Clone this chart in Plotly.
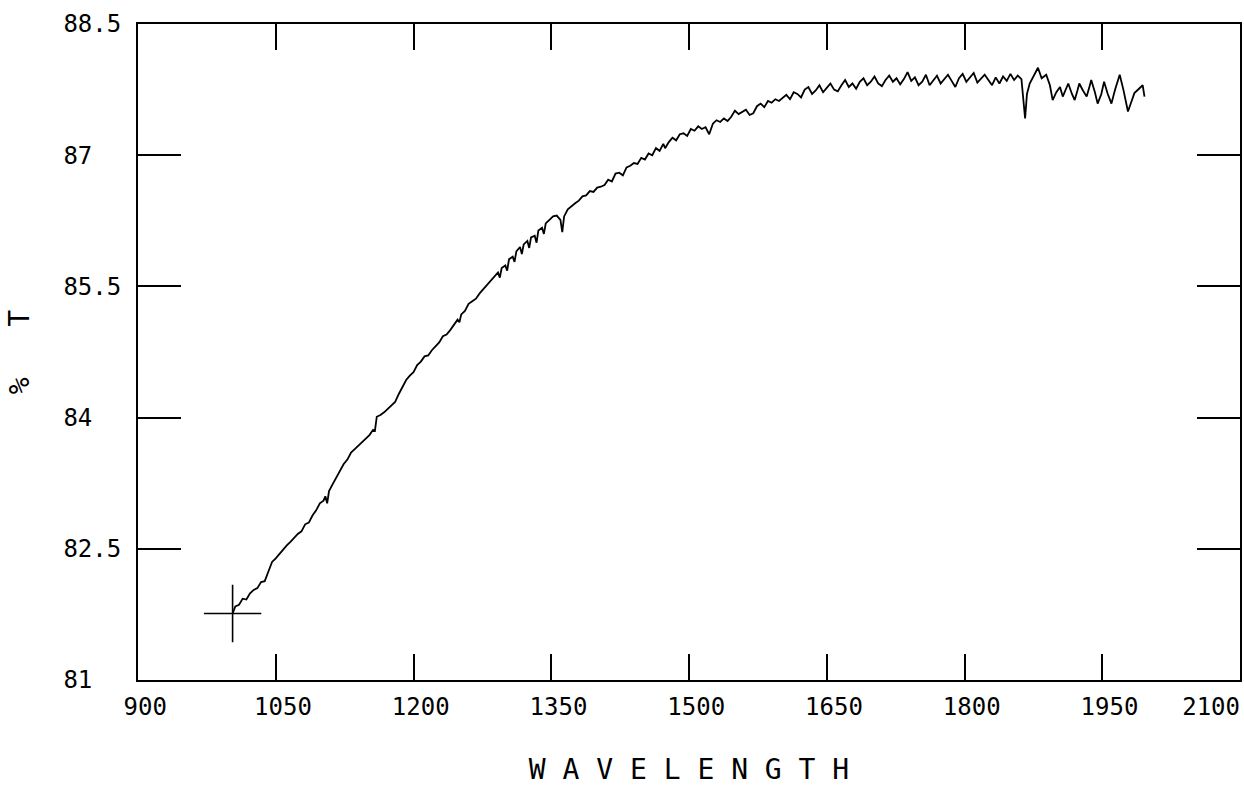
import plotly.graph_objects as go

wavelength = [
    1003, 1006, 1010, 1014, 1018, 1022, 1026, 1030, 1034, 1038, 1042, 1046, 1050, 1054, 1058,
    1062, 1066, 1070, 1074, 1078, 1082, 1086, 1090, 1094, 1098, 1102, 1104, 1106, 1108, 1112,
    1116, 1120, 1124, 1128, 1132, 1136, 1140, 1144, 1148, 1152, 1156, 1158, 1160, 1164, 1168,
    1172, 1176, 1180, 1184, 1188, 1192, 1196, 1200, 1204, 1208, 1212, 1216, 1220, 1224, 1228,
    1232, 1236, 1240, 1244, 1248, 1250, 1252, 1256, 1260, 1264, 1268, 1272, 1276, 1280, 1284,
    1288, 1292, 1294, 1296, 1300, 1302, 1304, 1308, 1310, 1312, 1316, 1318, 1320, 1324, 1326,
    1328, 1332, 1334, 1336, 1340, 1342, 1344, 1348, 1352, 1356, 1360, 1362, 1364, 1368, 1372,
    1376, 1380, 1384, 1388, 1392, 1396, 1400, 1404, 1408, 1412, 1416, 1420, 1424, 1428, 1432,
    1436, 1440, 1444, 1448, 1452, 1456, 1460, 1464, 1468, 1472, 1474, 1478, 1482, 1486, 1490,
    1494, 1498, 1502, 1506, 1510, 1514, 1518, 1522, 1526, 1530, 1534, 1538, 1542, 1546, 1550,
    1554, 1558, 1562, 1566, 1570, 1574, 1578, 1582, 1586, 1590, 1594, 1598, 1602, 1606, 1610,
    1614, 1618, 1622, 1626, 1630, 1634, 1638, 1642, 1646, 1650, 1654, 1658, 1662, 1666, 1670,
    1674, 1678, 1682, 1686, 1690, 1694, 1698, 1702, 1706, 1710, 1714, 1718, 1722, 1726, 1730,
    1734, 1738, 1742, 1746, 1750, 1754, 1758, 1762, 1766, 1770, 1774, 1778, 1782, 1786, 1790,
    1794, 1798, 1802, 1806, 1810, 1814, 1818, 1822, 1826, 1830, 1834, 1838, 1842, 1846, 1850,
    1854, 1858, 1862, 1866, 1868, 1871, 1875, 1880, 1884, 1889, 1893, 1896, 1900, 1904, 1907,
    1910, 1913, 1917, 1920, 1923, 1925, 1929, 1933, 1936, 1938, 1942, 1945, 1949, 1952, 1956,
    1960, 1964, 1969, 1973, 1978, 1982, 1985, 1990, 1994, 1996,
]

transmittance = [
    81.76, 81.84, 81.86, 81.93, 81.92, 81.99, 82.03, 82.05, 82.12, 82.13, 82.24, 82.35, 82.39, 82.44, 82.50,
    82.54, 82.58, 82.63, 82.67, 82.70, 82.78, 82.80, 82.88, 82.94, 83.02, 83.05, 83.10, 83.02, 83.16, 83.24,
    83.32, 83.40, 83.47, 83.52, 83.60, 83.64, 83.68, 83.72, 83.76, 83.80, 83.86, 83.85, 84.01, 84.03, 84.06,
    84.10, 84.14, 84.18, 84.27, 84.36, 84.43, 84.48, 84.52, 84.60, 84.64, 84.70, 84.71, 84.77, 84.82, 84.86,
    84.93, 84.95, 85.00, 85.06, 85.12, 85.09, 85.18, 85.22, 85.30, 85.33, 85.36, 85.42, 85.47, 85.52, 85.57,
    85.62, 85.66, 85.60, 85.71, 85.74, 85.68, 85.81, 85.84, 85.78, 85.90, 85.95, 85.87, 85.98, 86.02, 85.94,
    86.06, 86.08, 86.00, 86.14, 86.17, 86.10, 86.22, 86.26, 86.30, 86.31, 86.26, 86.12, 86.30, 86.38, 86.42,
    86.45, 86.48, 86.53, 86.54, 86.59, 86.58, 86.63, 86.64, 86.66, 86.72, 86.70, 86.79, 86.80, 86.77, 86.86,
    86.88, 86.91, 86.90, 86.97, 86.95, 87.02, 87.00, 87.08, 87.05, 87.13, 87.08, 87.15, 87.20, 87.17, 87.24,
    87.25, 87.22, 87.30, 87.28, 87.33, 87.30, 87.32, 87.24, 87.36, 87.40, 87.38, 87.42, 87.39, 87.44, 87.51,
    87.47, 87.50, 87.52, 87.46, 87.48, 87.56, 87.59, 87.55, 87.62, 87.60, 87.64, 87.62, 87.66, 87.69, 87.64,
    87.72, 87.70, 87.66, 87.75, 87.78, 87.70, 87.74, 87.80, 87.72, 87.77, 87.82, 87.75, 87.73, 87.80, 87.86,
    87.78, 87.82, 87.76, 87.84, 87.88, 87.80, 87.84, 87.90, 87.82, 87.79, 87.86, 87.91, 87.84, 87.88, 87.81,
    87.87, 87.95, 87.85, 87.89, 87.80, 87.84, 87.92, 87.80, 87.86, 87.91, 87.82, 87.87, 87.92, 87.85, 87.78,
    87.88, 87.93, 87.84, 87.89, 87.94, 87.83, 87.88, 87.92, 87.86, 87.80, 87.89, 87.82, 87.90, 87.85, 87.93,
    87.86, 87.91, 87.87, 87.42, 87.70, 87.82, 87.90, 88.00, 87.88, 87.92, 87.80, 87.63, 87.72, 87.78, 87.67,
    87.75, 87.82, 87.70, 87.63, 87.74, 87.82, 87.74, 87.67, 87.78, 87.86, 87.72, 87.59, 87.70, 87.84, 87.70,
    87.59, 87.75, 87.92, 87.75, 87.50, 87.62, 87.71, 87.76, 87.80, 87.67,
]

x_ticks = [900, 1050, 1200, 1350, 1500, 1650, 1800, 1950, 2100]
x_tick_labels = ["900", "1050", "1200", "1350", "1500", "1650", "1800", "1950", "2100"]
y_ticks = [81, 82.5, 84, 85.5, 87, 88.5]
y_tick_labels = ["81", "82.5", "84", "85.5", "87", "88.5"]

NB = "\u00a0"
# last x label is drawn by an overlaid axis, right-aligned to the frame
x_text = [NB + t for t in x_tick_labels[:-1]] + [""]
y_text = [t + NB * (4 - len(t)) for t in y_tick_labels]

mono = "DejaVu Sans Mono"

fig = go.Figure()
fig.add_trace(go.Scatter(
    x=wavelength, y=transmittance, mode="lines",
    line=dict(color="black", width=1.8), showlegend=False, hoverinfo="skip",
))
fig.add_trace(go.Scatter(
    x=[wavelength[0]], y=[transmittance[0]], mode="markers", xaxis="x2", yaxis="y",
    marker=dict(symbol="cross-thin", size=41, line=dict(color="black", width=1.6)),
    showlegend=False, hoverinfo="skip",
))

fig.update_layout(
    width=1244, height=790,
    margin=dict(l=138, r=4, t=24, b=110, autoexpand=False),
    paper_bgcolor="white", plot_bgcolor="white",
    font=dict(family=mono, color="black", size=24),
    xaxis=dict(
        range=[900, 2100], tickvals=x_ticks, ticktext=x_text,
        showgrid=False, zeroline=False, automargin=False,
        showline=True, linecolor="black", linewidth=2, mirror="ticks",
        ticks="inside", ticklen=26, tickwidth=1.5, tickcolor="black",
        tickfont=dict(family=mono, size=24), ticklabelstandoff=4,
        ticklabeloverflow="allow",
        title=dict(text="W A V E L E N G T H", font=dict(family=mono, size=28), standoff=40),
    ),
    xaxis2=dict(
        overlaying="x", side="bottom", range=[900, 2100],
        tickvals=[x_ticks[-1]], ticktext=[x_tick_labels[-1]],
        ticklabelposition="outside left", ticks="", showline=False,
        showgrid=False, zeroline=False, automargin=False,
        tickfont=dict(family=mono, size=24), ticklabelstandoff=10,
        ticklabeloverflow="allow",
    ),
    yaxis=dict(
        range=[81, 88.5], tickvals=y_ticks, ticktext=y_text,
        showgrid=False, zeroline=False, automargin=False,
        showline=True, linecolor="black", linewidth=2, mirror="ticks",
        ticks="inside", ticklen=43, tickwidth=1.5, tickcolor="black",
        tickfont=dict(family=mono, size=24), ticklabelstandoff=10,
        ticklabeloverflow="allow",
        title=dict(text="%" + NB * 3 + "T", font=dict(family=mono, size=28), standoff=26),
    ),
)

fig.write_html("out.html")
